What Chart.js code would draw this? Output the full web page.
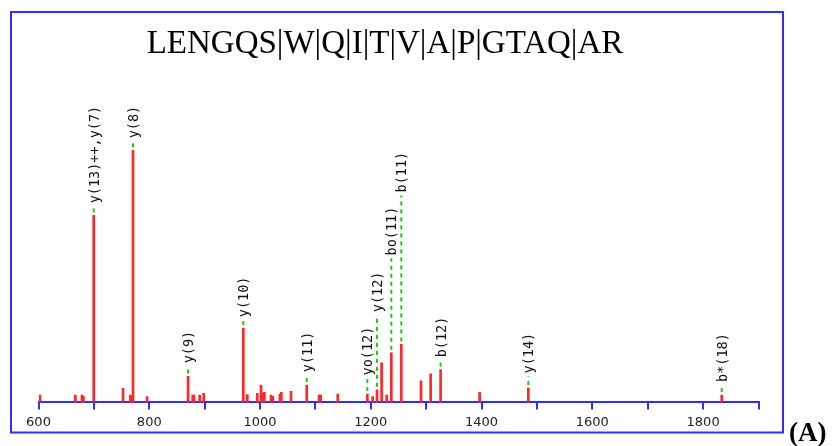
<!DOCTYPE html>
<html>
<head>
<meta charset="utf-8">
<script src="https://cdn.jsdelivr.net/npm/chart.js@4.4.1/dist/chart.umd.min.js"></script>
<style>
  html, body { margin: 0; padding: 0; background: #fff; }
  #wrap { width: 835px; height: 446px; position: relative; }
</style>
</head>
<body>
<div id="wrap"><canvas id="spectrum"></canvas></div>
<script>
// peptide shown as title, with fragment cleavage marks
const peptide = "LENGQS|W|Q|I|T|V|A|P|GTAQ|AR";
const panelLabel = "(A)";

// peaks: m/z and relative intensity (% of base peak)
const peakMz = [602.7, 666.5, 678.5, 681.0, 699.7, 752.6, 765.8, 768.3, 770.6, 796.0,
  870.0, 878.4, 880.8, 891.0, 898.2, 969.8, 977.0, 995.0, 1001.8, 1004.8,
  1007.8, 1019.9, 1023.0, 1036.0, 1038.4, 1055.9, 1084.3, 1106.5, 1109.5, 1140.3,
  1193.7, 1203.4, 1211.2, 1219.5, 1228.7, 1237.0, 1255.0, 1290.6, 1308.0, 1326.0,
  1396.5, 1484.4, 1833.6];
const peakIntensity = [2.9, 2.9, 2.9, 2.4, 74.2, 5.6, 2.9, 2.4, 100, 2.3,
  10.3, 2.9, 2.9, 2.9, 3.6, 29.5, 3.1, 3.6, 6.9, 3.7,
  4.0, 2.9, 2.4, 3.3, 4.0, 4.4, 6.9, 2.9, 2.9, 3.3,
  3.3, 2.3, 5.0, 15.7, 2.9, 19.7, 23.0, 8.6, 11.3, 13.0,
  4.0, 5.7, 2.9];

// matched ions: name, m/z of the peak, level where the label starts
const ionNames = ["y(13)++,y(7)", "y(8)", "y(9)", "y(10)", "y(11)", "yo(12)",
  "y(12)", "bo(11)", "b(11)", "b(12)", "y(14)", "b*(18)"];
const ionMz = [699.7, 770.6, 870.0, 969.8, 1084.3, 1193.7,
  1211.2, 1237.0, 1255.0, 1326.0, 1484.4, 1833.6];
const ionLabelLevel = [79.0, 104.8, 15.5, 33.8, 12.0, 10.7,
  35.8, 58.3, 83.3, 17.9, 11.5, 8.1];

const xMin = 600, xMax = 1900, xStep = 100;
const yMax = 120;

const BLUE = '#2e2eff';

// frame, title, panel letter and ion labels
const decorations = {
  id: 'decorations',
  beforeDraw(chart) {
    const ctx = chart.ctx;
    ctx.save();
    ctx.fillStyle = '#fff';
    ctx.fillRect(0, 0, chart.width, chart.height);
    ctx.restore();
  },
  afterDraw(chart) {
    const ctx = chart.ctx;
    const xs = chart.scales.x, ys = chart.scales.y;
    ctx.save();

    ctx.strokeStyle = BLUE;
    ctx.lineWidth = 2;
    ctx.strokeRect(11, 12, 772, 420.5);

    ctx.fillStyle = '#000';
    ctx.font = '33px "Liberation Serif", "Times New Roman", serif';
    ctx.textAlign = 'center';
    ctx.textBaseline = 'alphabetic';
    ctx.fillText(peptide, 385, 52.5);

    ctx.font = 'bold 27px "Liberation Serif", "Times New Roman", serif';
    ctx.textAlign = 'left';
    ctx.fillText(panelLabel, 789, 441);

    ctx.font = '13.5px "DejaVu Sans Mono", monospace';
    ionMz.forEach((mz, i) => {
      const k = peakMz.indexOf(mz);
      const px = xs.getPixelForValue(mz);
      const top = ys.getPixelForValue(peakIntensity[k]);
      const textY = ys.getPixelForValue(ionLabelLevel[i]);

      if (top - 3 > textY + 3) {
        ctx.strokeStyle = '#1ec81e';
        ctx.lineWidth = 2;
        ctx.setLineDash([4, 4]);
        ctx.beginPath();
        ctx.moveTo(px, top - 3);
        ctx.lineTo(px, textY + 3);
        ctx.stroke();
        ctx.setLineDash([]);
      }

      ctx.save();
      ctx.translate(px + 1.5, textY);
      ctx.rotate(-Math.PI / 2);
      ctx.fillStyle = '#111';
      ctx.textAlign = 'left';
      ctx.textBaseline = 'middle';
      ctx.fillText(ionNames[i], 0, 0);
      ctx.restore();
    });

    ctx.restore();
  }
};

new Chart(document.getElementById('spectrum'), {
  type: 'bar',
  data: {
    datasets: [{
      data: peakMz.map((mz, i) => ({ x: mz, y: peakIntensity[i] })),
      backgroundColor: '#ff2828',
      borderWidth: 0,
      barThickness: 2,
      grouped: false
    }]
  },
  options: {
    responsive: true,
    maintainAspectRatio: false,
    animation: false,
    layout: { padding: { left: 38.5, right: 76.5, top: 100, bottom: 11 } },
    plugins: {
      legend: { display: false },
      tooltip: { enabled: false },
      title: { display: false }
    },
    scales: {
      x: {
        type: 'linear',
        min: xMin,
        max: xMax,
        offset: false,
        grid: {
          display: true,
          offset: false,
          drawOnChartArea: false,
          drawTicks: true,
          tickLength: 7,
          color: BLUE,
          lineWidth: 2
        },
        border: { display: true, color: BLUE, width: 2 },
        ticks: {
          stepSize: xStep,
          autoSkip: false,
          maxRotation: 0,
          padding: 5,
          color: '#222',
          font: { family: '"DejaVu Sans", sans-serif', size: 13 },
          callback: (v) => (v % 200 === 0 && v < xMax ? String(v) : '')
        }
      },
      y: {
        display: false,
        min: 0,
        max: yMax
      }
    }
  },
  plugins: [decorations]
});
</script>
</body>
</html>
